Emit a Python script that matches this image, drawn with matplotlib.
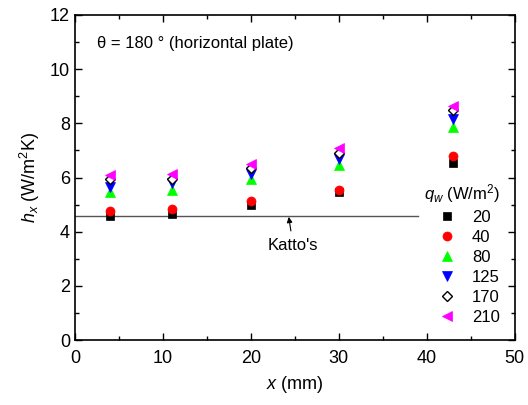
import matplotlib
matplotlib.use("Agg")
import matplotlib.pyplot as plt
from matplotlib.ticker import MultipleLocator

plt.rcParams['font.family'] = ['Liberation Sans', 'DejaVu Sans']
plt.rcParams['mathtext.fontset'] = 'custom'
plt.rcParams['mathtext.rm'] = 'Liberation Sans'
plt.rcParams['mathtext.it'] = 'Liberation Sans:italic'

# positions along the plate (mm)
x_mm = [4, 11, 20, 30, 43]

# heat flux levels (W/m2) and measured h_x
q_labels = ['20', '40', '80', '125', '170', '210']
h_20 = [4.58, 4.65, 5.00, 5.45, 6.55]
h_40 = [4.75, 4.85, 5.15, 5.55, 6.80]
h_80 = [5.45, 5.55, 5.95, 6.45, 7.85]
h_125 = [5.65, 5.80, 6.15, 6.70, 8.15]
h_170 = [5.95, 5.95, 6.35, 6.90, 8.50]
h_210 = [6.10, 6.15, 6.50, 7.10, 8.65]

# Katto's correlation (flat line)
katto_x = [0, 39]
katto_h = [4.6, 4.6]

series = [h_20, h_40, h_80, h_125, h_170, h_210]
markers = ['s', 'o', '^', 'v', 'D', '<']
colors = ['black', 'red', '#00ff00', 'blue', 'white', 'magenta']
edges = ['black', 'red', '#00ff00', 'blue', 'black', 'magenta']
sizes = [5.5, 6.5, 7, 7, 5.5, 7]

fig = plt.figure(figsize=(5.28, 4.05), dpi=100)
ax = fig.add_axes([0.142, 0.160, 0.833, 0.803])

ax.plot(katto_x, katto_h, color='#555555', lw=1)
ax.annotate("Katto's", xy=(24.3, 4.55), xytext=(24.8, 3.5), ha='center', va='center',
            fontsize=12, arrowprops=dict(arrowstyle='-|>', color='black', lw=0.8,
                                         mutation_scale=8, shrinkA=3, shrinkB=0))

for h, m, c, e, s, lab in zip(series, markers, colors, edges, sizes, q_labels):
    ax.plot(x_mm, h, linestyle='none', marker=m, ms=s, mfc=c, mec=e,
            mew=1 if m == 'D' else 0.5, label=lab)

leg = ax.legend(loc='lower right', bbox_to_anchor=(1.0, 0.0), frameon=False, fontsize=12,
                title=r'$q_w$ (W/m$^2$)', title_fontsize=12, handletextpad=1.0,
                labelspacing=0.3, borderaxespad=0.5, handlelength=1.0)
leg._legend_box.align = 'right'

ax.text(2.5, 10.95, '\u03b8 = 180 ° (horizontal plate)', fontsize=12, va='center')

ax.set_xlim(0, 50)
ax.set_ylim(0, 12)
ax.xaxis.set_major_locator(MultipleLocator(10))
ax.xaxis.set_minor_locator(MultipleLocator(5))
ax.yaxis.set_major_locator(MultipleLocator(2))
ax.yaxis.set_minor_locator(MultipleLocator(1))
ax.tick_params(which='both', direction='in', top=True, right=True, labelsize=13, width=1)
ax.tick_params(which='major', length=5)
ax.tick_params(which='minor', length=3)
ax.tick_params(axis='x', pad=7)
for sp in ax.spines.values():
    sp.set_linewidth(1.2)

ax.set_xlabel(r'$x$ (mm)', fontsize=13, labelpad=5)
ax.set_ylabel(r'$h_x$ (W/m$^2$K)', fontsize=13, labelpad=6)

fig.savefig('out.png', dpi=100)
